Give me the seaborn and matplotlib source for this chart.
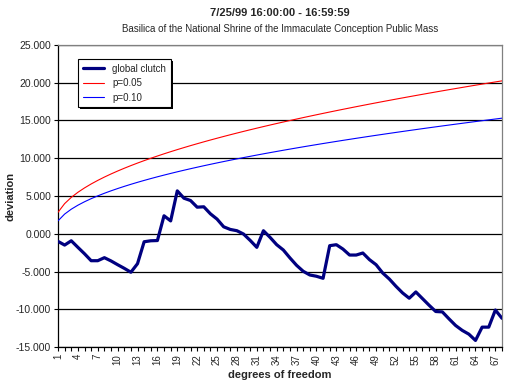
import pandas as pd
import seaborn as sns
import matplotlib.pyplot as plt
import matplotlib.patheffects as pe
import numpy as np

# degrees of freedom 1..68
dof = list(range(1, 69))

# global clutch deviation
clutch = [-1.01, -1.50, -0.93, -1.80, -2.65, -3.57, -3.57, -3.17, -3.60, -4.10,
          -4.58, -5.10, -3.96, -1.06, -0.93, -0.90, 2.38, 1.70, 5.68, 4.71,
          4.40, 3.52, 3.57, 2.64, 1.94, 0.92, 0.57, 0.40, -0.04, -0.88,
          -1.80, 0.40, -0.48, -1.45, -2.15, -3.20, -4.18, -4.97, -5.46, -5.63,
          -5.90, -1.58, -1.45, -2.03, -2.82, -2.82, -2.55, -3.43, -4.10, -5.20,
          -6.00, -6.96, -7.84, -8.54, -7.71, -8.59, -9.47, -10.30, -10.35, -11.27,
          -12.15, -12.80, -13.30, -14.13, -12.37, -12.37, -10.10, -11.20]

# p=0.05 threshold
p05 = [2.841, 3.991, 4.815, 5.488, 6.070, 6.592, 7.067, 7.507, 7.919, 8.307,
       8.675, 9.026, 9.362, 9.685, 9.996, 10.296, 10.587, 10.869, 11.144, 11.410,
       11.671, 11.924, 12.172, 12.415, 12.652, 12.885, 13.113, 13.337, 13.557, 13.773,
       13.985, 14.194, 14.400, 14.602, 14.802, 14.998, 15.192, 15.384, 15.572, 15.758,
       15.942, 16.124, 16.304, 16.481, 16.656, 16.830, 17.001, 17.171, 17.339, 17.505,
       17.669, 17.832, 17.993, 18.153, 18.311, 18.468, 18.624, 18.778, 18.931, 19.082,
       19.232, 19.381, 19.529, 19.675, 19.821, 19.965, 20.108, 20.250]

# p=0.10 threshold
p10 = [1.706, 2.605, 3.251, 3.779, 4.236, 4.645, 5.017, 5.362, 5.684, 5.987,
       6.275, 6.549, 6.812, 7.064, 7.307, 7.542, 7.769, 7.989, 8.204, 8.412,
       8.615, 8.813, 9.007, 9.196, 9.382, 9.563, 9.741, 9.916, 10.087, 10.256,
       10.422, 10.585, 10.745, 10.903, 11.059, 11.212, 11.363, 11.513, 11.660, 11.805,
       11.949, 12.090, 12.230, 12.369, 12.505, 12.641, 12.774, 12.907, 13.038, 13.167,
       13.295, 13.422, 13.548, 13.673, 13.796, 13.919, 14.040, 14.160, 14.279, 14.397,
       14.514, 14.630, 14.745, 14.860, 14.973, 15.085, 15.197, 15.308]

df = pd.DataFrame({'dof': dof, 'global clutch': clutch, 'p=0.05': p05, 'p=0.10': p10})
long = df.melt(id_vars='dof', var_name='series', value_name='deviation')

sns.set_style("white")
plt.rcParams['font.family'] = ['Liberation Sans', 'DejaVu Sans']

fig = plt.figure(figsize=(5.07, 3.84), dpi=100)
ax = fig.add_axes([58/507, 1 - 347/384, 444/507, 302/384])

palette = {'global clutch': '#000080', 'p=0.05': '#FF0000', 'p=0.10': '#0000FF'}
sizes = {'global clutch': 2.3, 'p=0.05': 0.8, 'p=0.10': 0.8}
sns.lineplot(data=long, x='dof', y='deviation', hue='series', size='series',
             palette=palette, sizes=sizes, ax=ax, legend=True, zorder=3)

# axes look
ax.set_xlim(1, 68)
ax.set_ylim(-15, 25)
ax.set_yticks(np.arange(-15, 26, 5))
ax.set_yticklabels([f'{v:.3f}' for v in np.arange(-15, 26, 5)], fontsize=7.5)
ax.set_xticks(range(1, 69, 3))
ax.set_xticklabels([str(v) for v in range(1, 69, 3)], rotation=90, fontsize=7)
ax.set_xticks(range(1, 69), minor=True)
ax.tick_params(axis='both', which='both', direction='out', length=3, width=0.8,
               color='black', pad=2, bottom=True, left=True)
ax.grid(axis='y', color='black', linewidth=0.9)
ax.set_axisbelow(True)

for s in ['left', 'bottom']:
    ax.spines[s].set_color('black')
    ax.spines[s].set_linewidth(0.9)
for s in ['top', 'right']:
    ax.spines[s].set_color('#808080')
    ax.spines[s].set_linewidth(0.9)

ax.set_xlabel('degrees of freedom', fontsize=8, fontweight='bold', labelpad=4)
ax.set_ylabel('deviation', fontsize=8, fontweight='bold')
ax.yaxis.set_label_coords(-0.095, 0.5)

# legend
handles, labels = ax.get_legend_handles_labels()
leg = ax.legend(handles, labels, loc='upper left', bbox_to_anchor=(0.045, 0.954),
                borderaxespad=0, fontsize=7, frameon=True, fancybox=False,
                framealpha=1, facecolor='white',
                edgecolor='black', handlelength=2.2, labelspacing=0.45, borderpad=0.5)
leg.get_frame().set_linewidth(0.8)
leg.get_frame().set_path_effects([
    pe.SimplePatchShadow(offset=(1.5, -1.5), shadow_rgbFace='black', alpha=1),
    pe.Normal()])

fig.text(280/507, 1 - 13/384, '7/25/99 16:00:00 - 16:59:59', ha='center', va='center',
         fontsize=8, fontweight='bold')
fig.text(280/507, 1 - 29/384,
         'Basilica of the National Shrine of the Immaculate Conception Public Mass',
         ha='center', va='center', fontsize=7)

plt.savefig('out.png', dpi=100)
